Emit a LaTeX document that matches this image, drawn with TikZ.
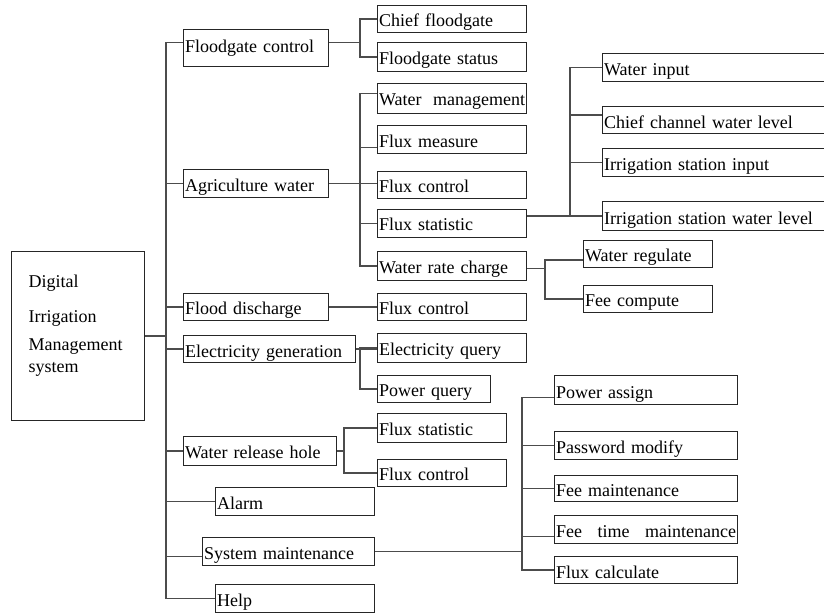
\documentclass[tikz,border=0pt]{standalone}
\usepackage{fontspec}
\setmainfont{Liberation Serif}
\tikzset{
  bx/.style={draw=black!85, line width=1.1pt, inner xsep=1.5pt, inner ysep=0pt,
             anchor=north west, align=left, font=\fontsize{18}{20}\selectfont},
  wh/.style n args={3}{text width=#1, text height=#2, text depth=#3},
  ln/.style={draw=black!70, line width=1.2pt}
}
\begin{document}
\begin{tikzpicture}[x=1pt,y=-1pt]
\useasboundingbox (0,0) rectangle (824,614);
\clip (0,0) rectangle (824,614);
% root
\node[bx, inner xsep=17pt, wh={99pt}{36pt}{133pt}] (root) at (11,251)
  {Digital\\[15pt]Irrigation\\[8pt]Management\\[2pt]system};
% level 1
\node[bx, wh={142pt}{23pt}{14pt}] (fc) at (183,29) {Floodgate control};
\node[bx, wh={142pt}{22pt}{6pt}] (aw) at (183,169) {Agriculture water};
\node[bx, wh={142pt}{21pt}{6pt}] (fd) at (183,293) {Flood discharge};
\node[bx, wh={169pt}{22pt}{5pt}] (eg) at (183,335) {Electricity generation};
\node[bx, wh={150pt}{22pt}{7pt}] (wr) at (183,436) {Water release hole};
\node[bx, wh={156pt}{22pt}{6pt}] (al) at (215,487) {Alarm};
\node[bx, wh={169pt}{22pt}{6pt}] (sm) at (202,537) {System maintenance};
\node[bx, wh={156pt}{22pt}{6pt}] (hp) at (215,584) {Help};
% level 2
\node[bx, wh={146pt}{21pt}{6pt}] (cf) at (377,5) {Chief floodgate};
\node[bx, wh={146pt}{22pt}{7pt}] (fs) at (377,42) {Floodgate status};
\node[bx, wh={146pt}{22pt}{8pt}] (wm) at (377,83) {Water\hfill management};
\node[bx, wh={146pt}{22pt}{6pt}] (fm) at (377,125) {Flux measure};
\node[bx, wh={146pt}{21pt}{6pt}] (fx1) at (377,171) {Flux control};
\node[bx, wh={146pt}{21pt}{7pt}] (fst) at (377,209) {Flux statistic};
\node[bx, wh={146pt}{22pt}{7pt}] (wrc) at (377,251) {Water rate charge};
\node[bx, wh={146pt}{21pt}{6pt}] (fx2) at (377,293) {Flux control};
\node[bx, wh={146pt}{22pt}{7pt}] (eq) at (377,333) {Electricity query};
\node[bx, wh={110pt}{21pt}{6pt}] (pq) at (377,375) {Power query};
\node[bx, wh={126pt}{22pt}{7pt}] (fst2) at (377,413) {Flux statistic};
\node[bx, wh={126pt}{21pt}{6pt}] (fx3) at (377,459) {Flux control};
% level 3
\node[bx, wh={227pt}{22pt}{6pt}] (wi) at (602,53) {Water input};
\node[bx, wh={227pt}{22pt}{5pt}] (cc) at (602,106) {Chief channel water level};
\node[bx, wh={227pt}{22pt}{6pt}] (is) at (602,148) {Irrigation station input};
\node[bx, wh={227pt}{23pt}{6pt}] (il) at (602,201) {Irrigation station water level};
\node[bx, wh={126pt}{21pt}{6pt}] (wg) at (583,240) {Water regulate};
\node[bx, wh={126pt}{21pt}{6pt}] (fe) at (583,285) {Fee compute};
\node[bx, wh={180pt}{23pt}{6pt}] (pa) at (554,375) {Power assign};
\node[bx, wh={180pt}{22pt}{6pt}] (pm) at (554,431) {Password modify};
\node[bx, wh={180pt}{21pt}{5pt}] (fmn) at (554,475) {Fee maintenance};
\node[bx, wh={180pt}{22pt}{6pt}] (ftm) at (554,515) {Fee\hfill time\hfill maintenance};
\node[bx, wh={180pt}{22pt}{5pt}] (fcl) at (554,556) {Flux calculate};
% connectors: root to level 1
\coordinate (tk) at (166,0);
\draw[ln] (root.east) -- (root.east -| tk);
\draw[ln] ([yshift=5.5pt]fc.west) -- ++(-17,0) |- (hp.west);
\foreach \n in {aw,fd,eg,wr,al} \draw[ln] (\n.west) -- (\n.west -| tk);
\draw[ln] ([yshift=-5pt]sm.west) -- ++(-36,0);
% floodgate control
\draw[ln] ([yshift=5.5pt]fc.east) -- ++(32,0);
\draw[ln] (cf.west) -- ++(-17,0) |- (fs.west);
% agriculture water
\draw[ln] (aw.east) -- (aw.east -| fx1.west);
\draw[ln] ([yshift=5pt]wm.west) -- ++(-17,0) |- (wrc.west);
\draw[ln] ([yshift=-8pt]fm.west) -- ++(-17,0);
\draw[ln] (fst.west) -- ++(-17,0);
% flux statistic
\draw[ln] (il.west) -- (il.west -| fst.east);
\draw[ln] (wi.west) -- ++(-32,0) |- (il.west);
\draw[ln] ([yshift=5pt]cc.west) -- ++(-32,0);
\draw[ln] (is.west) -- ++(-32,0);
% water rate charge
\draw[ln] ([yshift=-2.5pt]wrc.east) -- ++(19,0);
\draw[ln] ([yshift=-6pt]wg.west) -- ++(-38,0) |- (fe.west);
% flood discharge
\draw[ln] (fd.east) -- (fx2.west);
% electricity generation
\draw[ln] (eg.east) -- (eg.east -| eq.west);
\draw[ln] (eq.west) -- ++(-17,0) |- (pq.west);
% water release hole
\draw[ln] (wr.east) -- ++(8,0);
\draw[ln] (fst2.west) -- ++(-33,0) |- (fx3.west);
% system maintenance
\draw[ln] (sm.east) -- ++(148,0);
\draw[ln] ([yshift=-7.5pt]pa.west) -- ++(-32,0) |- (fcl.west);
\draw[ln] (pm.west) -- ++(-32,0);
\draw[ln] (fmn.west) -- ++(-32,0);
\draw[ln] ([yshift=-7pt]ftm.west) -- ++(-32,0);
\end{tikzpicture}
\end{document}
